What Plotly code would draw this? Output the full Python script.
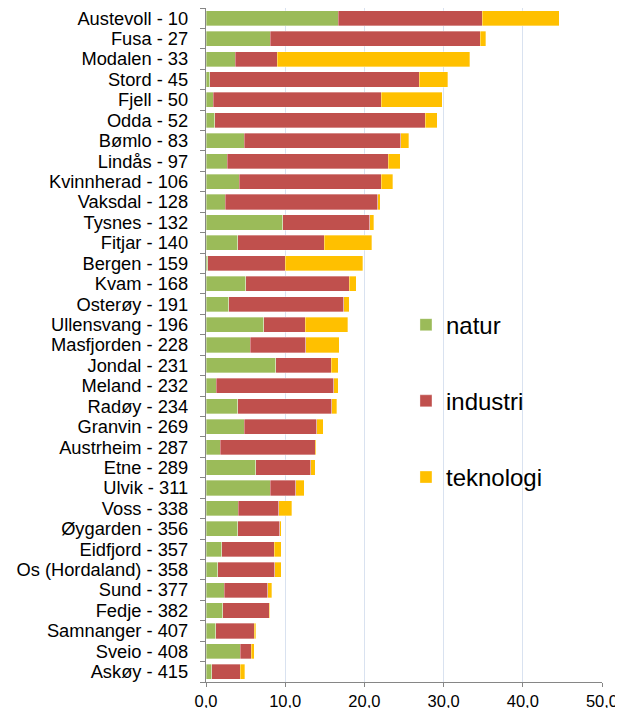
import plotly.graph_objects as go

categories = ["Austevoll - 10", "Fusa - 27", "Modalen - 33", "Stord - 45", "Fjell - 50",
              "Odda - 52", "Bømlo - 83", "Lindås - 97", "Kvinnherad - 106", "Vaksdal - 128",
              "Tysnes - 132", "Fitjar - 140", "Bergen - 159", "Kvam - 168", "Osterøy - 191",
              "Ullensvang - 196", "Masfjorden - 228", "Jondal - 231", "Meland - 232", "Radøy - 234",
              "Granvin - 269", "Austrheim - 287", "Etne - 289", "Ulvik - 311", "Voss - 338",
              "Øygarden - 356", "Eidfjord - 357", "Os (Hordaland) - 358", "Sund - 377", "Fedje - 382",
              "Samnanger - 407", "Sveio - 408", "Askøy - 415"]

natur = [16.7, 8.1, 3.7, 0.5, 0.9, 1.1, 4.8, 2.7, 4.2, 2.4,
         9.7, 4.0, 0.2, 5.0, 2.9, 7.3, 5.6, 8.8, 1.3, 4.0,
         4.8, 1.8, 6.3, 8.1, 4.1, 4.0, 2.0, 1.5, 2.3, 2.1,
         1.2, 4.3, 0.7]
industri = [18.2, 26.5, 5.3, 26.4, 21.2, 26.6, 19.8, 20.3, 17.9, 19.3,
            11.0, 10.9, 9.8, 13.1, 14.5, 5.2, 7.0, 7.0, 14.8, 11.9,
            9.2, 12.0, 6.9, 3.2, 5.1, 5.3, 6.6, 7.2, 5.5, 5.9,
            4.9, 1.4, 3.6]
teknologi = [9.7, 0.7, 24.3, 3.6, 7.7, 1.5, 1.0, 1.5, 1.5, 0.3,
             0.5, 6.0, 9.8, 0.9, 0.7, 5.4, 4.2, 0.9, 0.6, 0.6,
             0.8, 0.1, 0.6, 1.1, 1.6, 0.2, 0.9, 0.8, 0.5, 0.05,
             0.2, 0.4, 0.6]

x_ticks = [0, 10, 20, 30, 40, 50]

series = [("natur", natur, "#9BBB59"), ("industri", industri, "#C0504D"), ("teknologi", teknologi, "#FFC000")]

fig = go.Figure()
for name, vals, col in series:
    fig.add_trace(go.Bar(
        y=categories, x=vals, name=name, orientation="h",
        marker=dict(color=col, line=dict(width=0.6, color="rgba(255,255,255,0.55)")),
        legendgroup=name,
    ))

fig.update_layout(
    width=623, height=708,
    barmode="stack", bargap=0.26,
    separators=", ",
    paper_bgcolor="white", plot_bgcolor="white",
    margin=dict(l=198, r=29, t=0, b=34, pad=0),
    font=dict(family="Liberation Sans, Arial, sans-serif", color="#000000"),
    showlegend=True,
    legend=dict(
        x=0.505, xanchor="left", y=0.563, yanchor="top",
        bgcolor="rgba(0,0,0,0)", font=dict(size=24),
        traceorder="grouped", tracegroupgap=42,
        itemwidth=30,
    ),
    xaxis=dict(
        range=[0, 50], tickvals=x_ticks, tickformat=".1f",
        showgrid=True, gridcolor="#D9E2F0", gridwidth=1.3,
        showline=True, linecolor="#868686", linewidth=1.3,
        ticks="outside", ticklen=4, tickcolor="#868686",
        tickfont=dict(size=16.5), zeroline=False, fixedrange=True,
        automargin=False,
    ),
    yaxis=dict(
        autorange="reversed", type="category",
        tickmode="array", tickvals=categories, ticktext=categories,
        showline=True, linecolor="#868686", linewidth=1.3,
        ticks="outside", ticklen=5, tickcolor="#868686", tickson="boundaries",
        tickfont=dict(size=18.3), ticklabelstandoff=13, showgrid=False,
        automargin=False,
    ),
)

fig.write_html("out.html")
